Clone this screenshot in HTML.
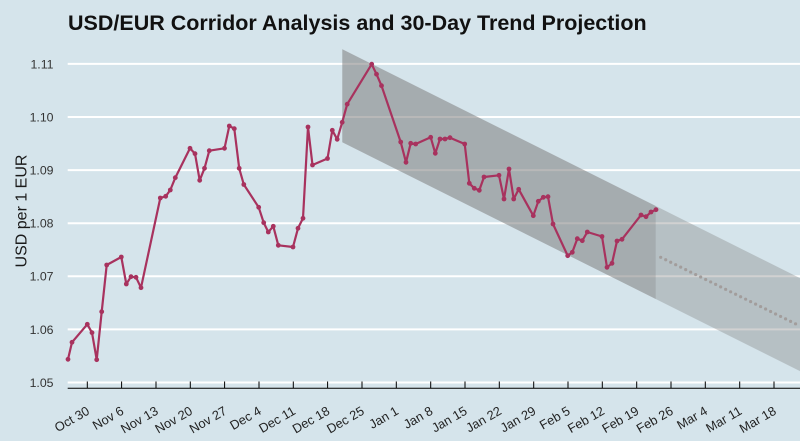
<!DOCTYPE html>
<html>
<head>
<meta charset="utf-8">
<style>
  html, body { margin:0; padding:0; background:#d5e4eb; }
  svg { display:block; }
  text { font-family: "Liberation Sans", Arial, sans-serif; }
</style>
</head>
<body>
<svg width="800" height="441" viewBox="0 0 800 441" xmlns="http://www.w3.org/2000/svg">
  <rect x="0" y="0" width="800" height="441" fill="#d5e4eb"/>

  <!-- Title -->
  <text x="68" y="30" font-size="21.5" font-weight="bold" fill="#111">USD/EUR Corridor Analysis and 30-Day Trend Projection</text>

  <!-- Gridlines -->
  <g stroke="#ffffff" stroke-width="2">
    <line x1="67.7" y1="382.5" x2="800" y2="382.5"/>
    <line x1="67.7" y1="329.4" x2="800" y2="329.4"/>
    <line x1="67.7" y1="276.3" x2="800" y2="276.3"/>
    <line x1="67.7" y1="223.2" x2="800" y2="223.2"/>
    <line x1="67.7" y1="170.1" x2="800" y2="170.1"/>
    <line x1="67.7" y1="117" x2="800" y2="117"/>
    <line x1="67.7" y1="63.9" x2="800" y2="63.9"/>
  </g>

  <!-- Y tick labels -->
  <g font-size="12.3" fill="#333" text-anchor="end">
    <text x="53.5" y="386.9">1.05</text>
    <text x="53.5" y="333.8">1.06</text>
    <text x="53.5" y="280.7">1.07</text>
    <text x="53.5" y="227.6">1.08</text>
    <text x="53.5" y="174.5">1.09</text>
    <text x="53.5" y="121.4">1.10</text>
    <text x="53.5" y="68.3">1.11</text>
  </g>

  <!-- Y axis title -->
  <text transform="translate(26.5,211) rotate(-90)" text-anchor="middle" font-size="16" fill="#1a1a1a">USD per 1 EUR</text>

  <!-- Corridor band (full, incl. projection) -->
  <polygon points="342.3,49.3 800,278.15 800,371.15 342.3,142.3" fill="#7f7f7f" fill-opacity="0.36"/>
  <!-- Historical corridor overlay -->
  <polygon points="342.3,49.3 655.7,206 655.7,299 342.3,142.3" fill="#7f7f7f" fill-opacity="0.3"/>

  <!-- Projection dotted line -->
  <line x1="660.7" y1="257.3" x2="800" y2="326" stroke="#a29d9c" stroke-width="3.2" stroke-linecap="round" stroke-dasharray="0 5.57"/>

  <!-- Axis line and ticks -->
  <line x1="67.7" y1="388.3" x2="800" y2="388.3" stroke="#000" stroke-width="1"/>
  <g stroke="#000" stroke-width="1">
    <line x1="87.3" y1="381.5" x2="87.3" y2="388.3"/>
    <line x1="121.6" y1="381.5" x2="121.6" y2="388.3"/>
    <line x1="156" y1="381.5" x2="156" y2="388.3"/>
    <line x1="190.3" y1="381.5" x2="190.3" y2="388.3"/>
    <line x1="224.6" y1="381.5" x2="224.6" y2="388.3"/>
    <line x1="259" y1="381.5" x2="259" y2="388.3"/>
    <line x1="293.3" y1="381.5" x2="293.3" y2="388.3"/>
    <line x1="327.6" y1="381.5" x2="327.6" y2="388.3"/>
    <line x1="362" y1="381.5" x2="362" y2="388.3"/>
    <line x1="396.3" y1="381.5" x2="396.3" y2="388.3"/>
    <line x1="430.7" y1="381.5" x2="430.7" y2="388.3"/>
    <line x1="465" y1="381.5" x2="465" y2="388.3"/>
    <line x1="499.3" y1="381.5" x2="499.3" y2="388.3"/>
    <line x1="533.7" y1="381.5" x2="533.7" y2="388.3"/>
    <line x1="568" y1="381.5" x2="568" y2="388.3"/>
    <line x1="602.3" y1="381.5" x2="602.3" y2="388.3"/>
    <line x1="636.7" y1="381.5" x2="636.7" y2="388.3"/>
    <line x1="671" y1="381.5" x2="671" y2="388.3"/>
    <line x1="705.3" y1="381.5" x2="705.3" y2="388.3"/>
    <line x1="739.7" y1="381.5" x2="739.7" y2="388.3"/>
    <line x1="774" y1="381.5" x2="774" y2="388.3"/>
  </g>

  <!-- X tick labels -->
  <g font-size="12.8" fill="#222" text-anchor="end" style="white-space:pre">
    <text transform="translate(85.8,405.5) rotate(-30)" dy="0.72em">Oct 30</text>
    <text transform="translate(120.1,405.5) rotate(-30)" dy="0.72em">Nov  6</text>
    <text transform="translate(154.5,405.5) rotate(-30)" dy="0.72em">Nov 13</text>
    <text transform="translate(188.8,405.5) rotate(-30)" dy="0.72em">Nov 20</text>
    <text transform="translate(223.1,405.5) rotate(-30)" dy="0.72em">Nov 27</text>
    <text transform="translate(257.5,405.5) rotate(-30)" dy="0.72em">Dec  4</text>
    <text transform="translate(291.8,405.5) rotate(-30)" dy="0.72em">Dec 11</text>
    <text transform="translate(326.1,405.5) rotate(-30)" dy="0.72em">Dec 18</text>
    <text transform="translate(360.5,405.5) rotate(-30)" dy="0.72em">Dec 25</text>
    <text transform="translate(394.8,405.5) rotate(-30)" dy="0.72em">Jan  1</text>
    <text transform="translate(429.2,405.5) rotate(-30)" dy="0.72em">Jan  8</text>
    <text transform="translate(463.5,405.5) rotate(-30)" dy="0.72em">Jan 15</text>
    <text transform="translate(497.8,405.5) rotate(-30)" dy="0.72em">Jan 22</text>
    <text transform="translate(532.2,405.5) rotate(-30)" dy="0.72em">Jan 29</text>
    <text transform="translate(566.5,405.5) rotate(-30)" dy="0.72em">Feb  5</text>
    <text transform="translate(600.8,405.5) rotate(-30)" dy="0.72em">Feb 12</text>
    <text transform="translate(635.2,405.5) rotate(-30)" dy="0.72em">Feb 19</text>
    <text transform="translate(669.5,405.5) rotate(-30)" dy="0.72em">Feb 26</text>
    <text transform="translate(703.8,405.5) rotate(-30)" dy="0.72em">Mar  4</text>
    <text transform="translate(738.2,405.5) rotate(-30)" dy="0.72em">Mar 11</text>
    <text transform="translate(772.5,405.5) rotate(-30)" dy="0.72em">Mar 18</text>
  </g>

  <!-- Data series -->
  <polyline fill="none" stroke="#a8325e" stroke-width="2.2" stroke-linejoin="round" points="
    68,359.3 72,342.3 87.3,324.3 92,332.7 96.7,359.7 101.7,311.7 106.7,265 121.3,257 126.3,284 131,276.7
    136,277.3 141,287.7 160.3,198 165.7,196.3 170.3,190 175.3,177.7 190,148.3 195,153.7 199.7,180.3 204.5,168.3
    209.3,150.7 224.5,148.3 229.3,126 234.3,128.7 239.2,168.3 243.8,184.5 258.7,207.3 263.7,222.7 268.3,232 273.3,226.3
    278.3,245.3 293,247 298,228.3 303,218.3 308,127 312.5,165 327.5,158.5 332.3,130.3 337.2,139.3 342.2,122.3
    347.2,104.2 371.7,64.2 376.5,74.2 381.5,85.7 400.7,142 406,162.3 410.7,143.3 415.7,144 430.7,137.3 435.3,153.3
    440,139 445,139 450,137.7 464.7,144 469.3,183.3 474.3,188.3 479.3,190.3 484,177 499,175.3 504,199
    509,169 513.7,199 518.7,189.3 533.3,215.7 538.3,201.3 543.3,197.3 548,196.7 553,224 567.7,255.7 572.3,252.3
    577.3,238.7 582.3,240.7 587.3,232 602,236.5 607,267.3 612,263.3 617,241 622,239.3 641,215 646,216.7
    651,212 656,209.7"/>
  <g fill="#a8325e">
    <circle cx="68" cy="359.3" r="2.4"/><circle cx="72" cy="342.3" r="2.4"/><circle cx="87.3" cy="324.3" r="2.4"/>
    <circle cx="92" cy="332.7" r="2.4"/><circle cx="96.7" cy="359.7" r="2.4"/><circle cx="101.7" cy="311.7" r="2.4"/>
    <circle cx="106.7" cy="265" r="2.4"/><circle cx="121.3" cy="257" r="2.4"/><circle cx="126.3" cy="284" r="2.4"/>
    <circle cx="131" cy="276.7" r="2.4"/><circle cx="136" cy="277.3" r="2.4"/><circle cx="141" cy="287.7" r="2.4"/>
    <circle cx="160.3" cy="198" r="2.4"/><circle cx="165.7" cy="196.3" r="2.4"/><circle cx="170.3" cy="190" r="2.4"/>
    <circle cx="175.3" cy="177.7" r="2.4"/><circle cx="190" cy="148.3" r="2.4"/><circle cx="195" cy="153.7" r="2.4"/>
    <circle cx="199.7" cy="180.3" r="2.4"/><circle cx="204.5" cy="168.3" r="2.4"/><circle cx="209.3" cy="150.7" r="2.4"/>
    <circle cx="224.5" cy="148.3" r="2.4"/><circle cx="229.3" cy="126" r="2.4"/><circle cx="234.3" cy="128.7" r="2.4"/>
    <circle cx="239.2" cy="168.3" r="2.4"/><circle cx="243.8" cy="184.5" r="2.4"/><circle cx="258.7" cy="207.3" r="2.4"/>
    <circle cx="263.7" cy="222.7" r="2.4"/><circle cx="268.3" cy="232" r="2.4"/><circle cx="273.3" cy="226.3" r="2.4"/>
    <circle cx="278.3" cy="245.3" r="2.4"/><circle cx="293" cy="247" r="2.4"/><circle cx="298" cy="228.3" r="2.4"/>
    <circle cx="303" cy="218.3" r="2.4"/><circle cx="308" cy="127" r="2.4"/><circle cx="312.5" cy="165" r="2.4"/>
    <circle cx="327.5" cy="158.5" r="2.4"/><circle cx="332.3" cy="130.3" r="2.4"/><circle cx="337.2" cy="139.3" r="2.4"/>
    <circle cx="342.2" cy="122.3" r="2.4"/><circle cx="347.2" cy="104.2" r="2.4"/><circle cx="371.7" cy="64.2" r="2.4"/>
    <circle cx="376.5" cy="74.2" r="2.4"/><circle cx="381.5" cy="85.7" r="2.4"/><circle cx="400.7" cy="142" r="2.4"/>
    <circle cx="406" cy="162.3" r="2.4"/><circle cx="410.7" cy="143.3" r="2.4"/><circle cx="415.7" cy="144" r="2.4"/>
    <circle cx="430.7" cy="137.3" r="2.4"/><circle cx="435.3" cy="153.3" r="2.4"/><circle cx="440" cy="139" r="2.4"/>
    <circle cx="445" cy="139" r="2.4"/><circle cx="450" cy="137.7" r="2.4"/><circle cx="464.7" cy="144" r="2.4"/>
    <circle cx="469.3" cy="183.3" r="2.4"/><circle cx="474.3" cy="188.3" r="2.4"/><circle cx="479.3" cy="190.3" r="2.4"/>
    <circle cx="484" cy="177" r="2.4"/><circle cx="499" cy="175.3" r="2.4"/><circle cx="504" cy="199" r="2.4"/>
    <circle cx="509" cy="169" r="2.4"/><circle cx="513.7" cy="199" r="2.4"/><circle cx="518.7" cy="189.3" r="2.4"/>
    <circle cx="533.3" cy="215.7" r="2.4"/><circle cx="538.3" cy="201.3" r="2.4"/><circle cx="543.3" cy="197.3" r="2.4"/>
    <circle cx="548" cy="196.7" r="2.4"/><circle cx="553" cy="224" r="2.4"/><circle cx="567.7" cy="255.7" r="2.4"/>
    <circle cx="572.3" cy="252.3" r="2.4"/><circle cx="577.3" cy="238.7" r="2.4"/><circle cx="582.3" cy="240.7" r="2.4"/>
    <circle cx="587.3" cy="232" r="2.4"/><circle cx="602" cy="236.5" r="2.4"/><circle cx="607" cy="267.3" r="2.4"/>
    <circle cx="612" cy="263.3" r="2.4"/><circle cx="617" cy="241" r="2.4"/><circle cx="622" cy="239.3" r="2.4"/>
    <circle cx="641" cy="215" r="2.4"/><circle cx="646" cy="216.7" r="2.4"/><circle cx="651" cy="212" r="2.4"/>
    <circle cx="656" cy="209.7" r="2.4"/>
  </g>
</svg>
</body>
</html>
